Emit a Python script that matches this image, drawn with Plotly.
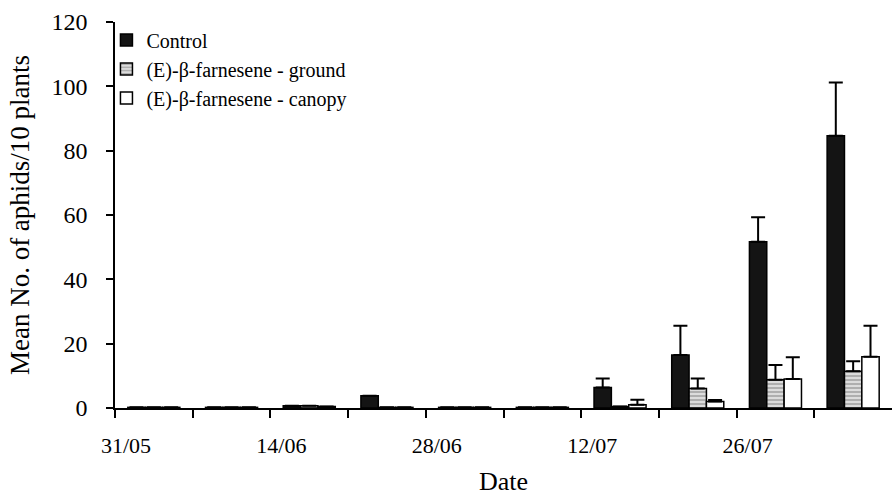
import plotly.graph_objects as go

# Weekly sampling dates (start of each weekly interval)
sample_dates = ["31/05", "07/06", "14/06", "21/06", "28/06",
                "05/07", "12/07", "19/07", "26/07", "02/08"]
tick_labels = ["31/05", "", "14/06", "", "28/06", "", "12/07", "", "26/07", ""]

control = [0.2, 0.2, 0.7, 3.8, 0.2, 0.2, 6.4, 16.5, 51.7, 84.6]
control_err = [0, 0, 0, 0, 0, 0, 2.8, 9.1, 7.6, 16.6]

ground = [0.2, 0.2, 0.7, 0.2, 0.2, 0.2, 0.5, 6.1, 8.8, 11.4]
ground_err = [0, 0, 0, 0, 0, 0, 0, 3.1, 4.6, 3.1]

canopy = [0.2, 0.2, 0.5, 0.2, 0.2, 0.2, 1.0, 2.0, 9.0, 15.9]
canopy_err = [0, 0, 0, 0, 0, 0, 1.6, 0.5, 6.8, 9.7]

xpos = [i + 0.5 for i in range(len(sample_dates))]
tickpos = list(range(len(sample_dates)))

FONT = "Liberation Serif"

def err(vals):
    return dict(type="data", array=vals, arrayminus=[0] * len(vals),
                symmetric=False, color="black", thickness=2, width=7)

fig = go.Figure()
fig.add_trace(go.Bar(
    x=xpos, y=control, name="Control", legendgroup="a",
    marker=dict(color="#141414", line=dict(color="black", width=1.5)),
    error_y=err(control_err)))
fig.add_trace(go.Bar(
    x=xpos, y=ground, name="(E)-β-farnesene - ground", legendgroup="b",
    marker=dict(color="#d0d0d0", line=dict(color="black", width=1.5),
                pattern=dict(shape="-", fgcolor="#6a6a6a", bgcolor="#dcdcdc",
                             size=4, solidity=0.4)),
    error_y=err(ground_err)))
fig.add_trace(go.Bar(
    x=xpos, y=canopy, name="(E)-β-farnesene - canopy", legendgroup="c",
    marker=dict(color="white", line=dict(color="black", width=1.5)),
    error_y=err(canopy_err)))

fig.update_layout(
    width=892, height=497,
    margin=dict(l=115, r=0, t=22, b=89),
    paper_bgcolor="white", plot_bgcolor="white",
    barmode="group", bargap=0.33, bargroupgap=0,
    font=dict(family=FONT, color="black", size=20),
    legend=dict(x=-0.011, y=1.004, xanchor="left", yanchor="top",
                font=dict(family=FONT, size=20, color="black"),
                bgcolor="rgba(0,0,0,0)", tracegroupgap=0,
                itemwidth=30),
    showlegend=True,
    xaxis2=dict(overlaying="x", anchor="y", side="bottom", range=[0, 10],
                tickmode="array", tickvals=tickpos, showticklabels=False,
                ticks="inside", ticklen=7, tickwidth=1.5, tickcolor="black",
                showline=False, showgrid=False, zeroline=False),
)
fig.layout.xaxis.update(
    range=[0, 10], tickmode="array", tickvals=tickpos, ticktext=tick_labels,
    showline=True, linecolor="black", linewidth=1.5,
    ticks="outside", ticklen=8, tickwidth=1.5, tickcolor="black",
    showgrid=False, zeroline=False,
    tickfont=dict(family=FONT, size=22),
    ticklabelstandoff=9, ticklabelshift=11,
    title=dict(text="Date", font=dict(family=FONT, size=26), standoff=15),
)
fig.update_yaxes(
    range=[0, 120], tickvals=[0, 20, 40, 60, 80, 100, 120],
    showline=True, linecolor="black", linewidth=1.5,
    ticks="outside", ticklen=7, tickwidth=1.5, tickcolor="black",
    showgrid=False, zeroline=False,
    tickfont=dict(family=FONT, size=24),
    ticklabelposition="outside", ticklabelstandoff=14,
    title=dict(text="Mean No. of aphids/10 plants",
               font=dict(family=FONT, size=27), standoff=14),
)

fig.write_html("out.html")
